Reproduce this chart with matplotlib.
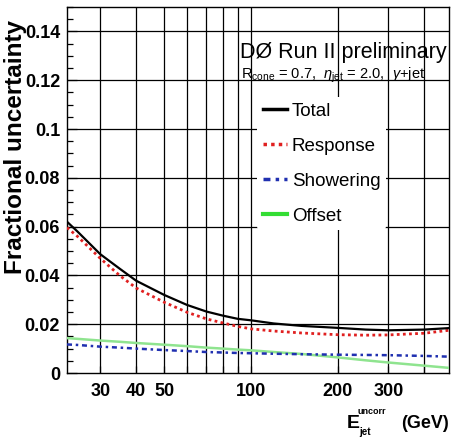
import matplotlib
matplotlib.use("Agg")
import matplotlib.pyplot as plt
from matplotlib.ticker import FixedLocator, NullFormatter, FixedFormatter, MultipleLocator

plt.rcParams['font.family'] = ['Liberation Sans', 'DejaVu Sans']
plt.rcParams['mathtext.fontset'] = 'custom'
plt.rcParams['mathtext.rm'] = 'Liberation Sans'
plt.rcParams['mathtext.it'] = 'Liberation Sans:italic'
plt.rcParams['mathtext.bf'] = 'Liberation Sans:bold'

# ---- data ----
energy = [23, 25, 30, 35, 40, 50, 60, 70, 80, 90, 100, 120, 150, 200, 250, 300, 400, 487]
total = [0.0620, 0.0580, 0.0487, 0.0428, 0.0378, 0.0320, 0.0279, 0.0252, 0.0235, 0.0222,
         0.0216, 0.0203, 0.0193, 0.0185, 0.0178, 0.0175, 0.0178, 0.0184]
response = [0.0596, 0.0560, 0.0470, 0.0400, 0.0348, 0.0290, 0.0249, 0.0222, 0.0205, 0.0191,
            0.0181, 0.0172, 0.0164, 0.0157, 0.0155, 0.0156, 0.0163, 0.0175]
showering = [0.0117, 0.0115, 0.0108, 0.0104, 0.0100, 0.0094, 0.0090, 0.0086, 0.0084, 0.0082,
             0.0081, 0.0079, 0.0077, 0.0075, 0.0074, 0.0073, 0.0070, 0.0067]
offset = [0.0143, 0.0140, 0.0133, 0.0128, 0.0123, 0.0116, 0.0110, 0.0104, 0.0100, 0.0096,
          0.0093, 0.0086, 0.0078, 0.0064, 0.0052, 0.0043, 0.0030, 0.0021]

series_labels = ["Total", "Response", "Showering", "Offset"]
x_grid_ticks = [30, 40, 50, 60, 70, 80, 90, 100, 200, 300, 400]
x_tick_labels = ["30", "40", "50", "", "", "", "", "100", "200", "300", ""]
y_ticks = [0, 0.02, 0.04, 0.06, 0.08, 0.1, 0.12, 0.14]
y_tick_labels = ["0", "0.02", "0.04", "0.06", "0.08", "0.1", "0.12", "0.14"]

W, H = 453, 437
fig = plt.figure(figsize=(W / 100, H / 100), dpi=100)
ax = fig.add_axes([67 / W, (H - 373) / H, (449 - 67) / W, (373 - 7) / H])

ax.set_xscale('log')
ax.set_xlim(23, 487)
ax.set_ylim(0, 0.15)

l1, = ax.plot(energy, total, color='black', lw=1.6, ls='-', zorder=5, label=series_labels[0])
l2, = ax.plot(energy, response, color='#e02020', lw=2.0, ls=(0, (1, 1.2)), zorder=4, label=series_labels[1])
l3, = ax.plot(energy, showering, color='#2030b0', lw=1.8, ls=(0, (2, 1.5, 1, 1.5)), zorder=4, label=series_labels[2])
l4, = ax.plot(energy, offset, color='#8fe48f', lw=1.8, ls='-', zorder=3, label=series_labels[3])

# grid
for xv in x_grid_ticks:
    ax.axvline(xv, color='black', lw=0.9, zorder=1)
for yv in y_ticks[1:]:
    ax.axhline(yv, color='black', lw=0.9, zorder=1)

ax.xaxis.set_major_locator(FixedLocator(x_grid_ticks))
ax.xaxis.set_major_formatter(FixedFormatter(x_tick_labels))
ax.xaxis.set_minor_locator(FixedLocator([]))
ax.xaxis.set_minor_formatter(NullFormatter())
ax.yaxis.set_major_locator(FixedLocator(y_ticks))
ax.yaxis.set_major_formatter(FixedFormatter(y_tick_labels))
ax.yaxis.set_minor_locator(MultipleLocator(0.005))

ax.tick_params(axis='x', which='major', direction='in', length=5, width=0.9, pad=7,
               labelsize=13)
ax.tick_params(axis='y', which='major', direction='in', length=7, width=0.9, pad=5,
               labelsize=13)
ax.tick_params(axis='y', which='minor', direction='in', length=4, width=0.9)
for lab in ax.get_xticklabels() + ax.get_yticklabels():
    lab.set_fontweight('bold')
for sp in ax.spines.values():
    sp.set_linewidth(1.0)
    sp.set_color('black')

leg = ax.legend(handles=[l1, l2, l3, l4], loc='upper left',
                bbox_to_anchor=(257 / W, (H - 97) / H), bbox_transform=fig.transFigure,
                frameon=True, facecolor='white', edgecolor='none', framealpha=1.0,
                fontsize=13.5, handlelength=1.3, handletextpad=0.25, labelspacing=0.95,
                borderpad=0.3, borderaxespad=0)
leg.set_zorder(6)
for h in leg.get_lines():
    h.set_linewidth(2.5)
leg.get_lines()[3].set_color('#33dd33')
leg.get_lines()[3].set_linewidth(3)

fig.text(240 / W, (H - 58) / H, "DØ Run II preliminary", fontsize=15.5, ha='left',
         va='baseline', zorder=10)
fig.text(241 / W, (H - 79) / H,
         r"R$_{\mathrm{cone}}$ = 0.7,  $\eta_{\mathrm{jet}}$ = 2.0,  $\gamma$+jet",
         fontsize=10.5, ha='left', va='baseline', zorder=10)

fig.text(16 / W, (H - 147) / H, "Fractional uncertainty", rotation=90, fontsize=17.5,
         fontweight='bold', ha='center', va='center')

# x-axis title: E with superscript "uncorr" and subscript "jet", then (GeV)
fig.text(347 / W, (H - 428) / H, "E", fontsize=14, fontweight='bold',
         ha='left', va='baseline')
fig.text(358 / W, (H - 414) / H, "uncorr", fontsize=6.5, fontweight='bold',
         ha='left', va='baseline')
fig.text(359 / W, (H - 435) / H, "jet", fontsize=7, fontweight='bold',
         ha='left', va='baseline')
fig.text(449 / W, (H - 428) / H, "(GeV)", fontsize=13, fontweight='bold',
         ha='right', va='baseline')

fig.savefig("out.png", dpi=100)
